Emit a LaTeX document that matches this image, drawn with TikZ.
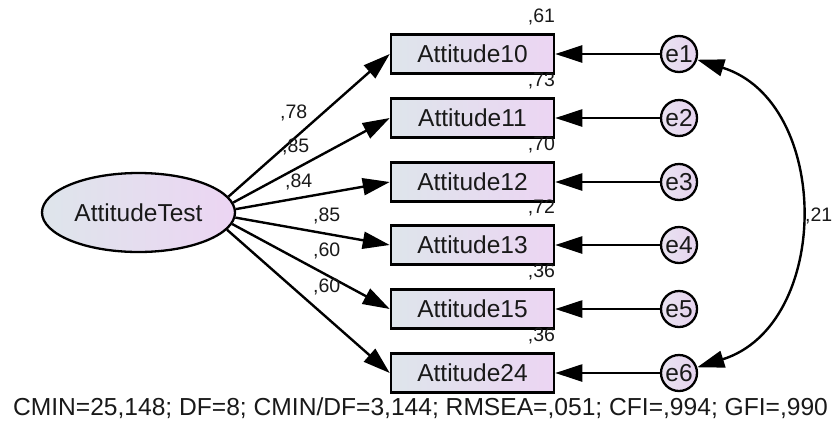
\documentclass[tikz,border=0pt]{standalone}
\usepackage{fontspec}
\setmainfont{Liberation Sans}
\usetikzlibrary{arrows.meta,shapes.geometric}
\definecolor{fillL}{HTML}{DEE5EB}
\definecolor{fillR}{HTML}{ECD5F3}
\definecolor{circL}{HTML}{E9E3F0}
\definecolor{circR}{HTML}{E6D3EF}
\begin{document}
\begin{tikzpicture}[x=1pt,y=-1pt,
  every node/.style={font=\fontsize{24.5}{29}\selectfont, inner sep=0pt, text=black!90},
  obs/.style={draw, line width=2.5pt, left color=fillL, right color=fillR,
              minimum width=163pt, minimum height=39pt},
  latent/.style={ellipse, draw, line width=2.3pt, left color=fillL, right color=fillR,
                 minimum width=193pt, minimum height=79pt},
  errc/.style={circle, draw, line width=2.3pt, left color=circL, right color=circR,
               minimum size=36pt},
  arr/.style={line width=2.4pt, -{Triangle[length=27pt,width=17pt]}},
  dbl/.style={line width=2.4pt, {Triangle[length=27pt,width=17pt]}-{Triangle[length=27pt,width=17pt]}},
  num/.style={font=\fontsize{19.5}{23}\selectfont, inner sep=0pt}]
\useasboundingbox (0,0) rectangle (832,421);

% latent factor
\node[latent] (F) at (138.5,212.5) {AttitudeTest};

% indicators, error terms, squared multiple correlations, loadings
\foreach \i/\y/\lbl/\rsq/\ang in {1/54/Attitude10/{,61}/10, 2/118/Attitude11/{,73}/6,
                                  3/182/Attitude12/{,70}/2, 4/245/Attitude13/{,72}/-3,
                                  5/309/Attitude15/{,36}/-7, 6/373/Attitude24/{,36}/-11}{
  \node[obs] (b\i) at (472.5,\y) {\lbl};
  \node[errc] (e\i) at (679,\y) {e\i};
  \node[num, anchor=base east] (r\i) at ([yshift=11pt]b\i.north east) {\rsq};
  \draw[arr] (e\i) -- (b\i);
  \draw[arr] (F.\ang) -- (b\i.west);
}

% standardized loadings
\node[num, anchor=base west] (l1) at (280,118) {,78};
\node[num, anchor=base west] (l2) at (282,152) {,85};
\node[num, anchor=base west] (l3) at (285,187) {,84};
\node[num, anchor=base west] (l4) at (313,221) {,85};
\node[num, anchor=base west] (l5) at (313,256) {,60};
\node[num, anchor=base west] (l6) at (313,292) {,60};

% covariance between e1 and e6
\draw[dbl] (e1) .. controls +(153,48) and +(153,-48) .. (e6);
\node[num, anchor=base west] (cov) at (805,221) {,21};

% fit indices
\node[anchor=base, font=\fontsize{24.6}{30}\selectfont] (fit) at (420.5,415) {CMIN=25,148; DF=8; CMIN/DF=3,144; RMSEA=,051; CFI=,994; GFI=,990};
\end{tikzpicture}
\end{document}
